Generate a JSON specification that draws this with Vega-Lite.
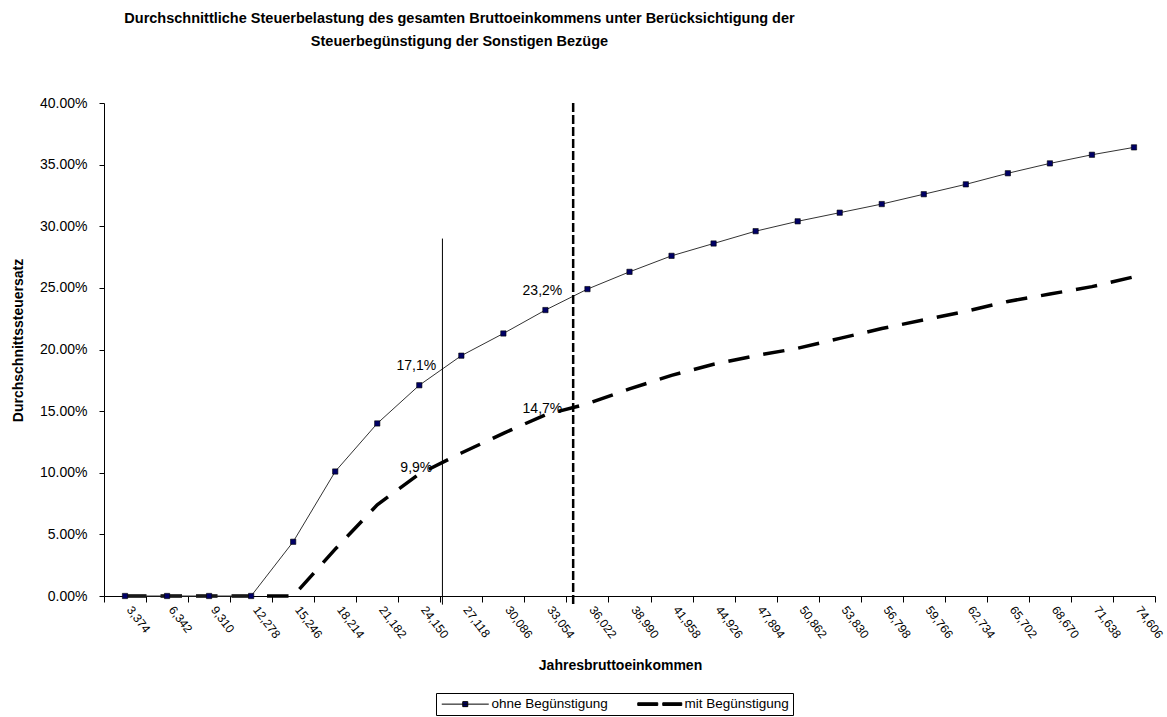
{
  "$schema": "https://vega.github.io/schema/vega-lite/v6.json",
  "autosize": {"type": "none"},
  "padding": {"left": 104, "top": 103, "right": 12, "bottom": 121},
  "width": 1051,
  "height": 493,
  "background": "white",
  "title": {
    "text": [
      "Durchschnittliche Steuerbelastung des gesamten Bruttoeinkommens unter Berücksichtigung der",
      "Steuerbegünstigung der Sonstigen Bezüge"
    ],
    "font": "Liberation Sans",
    "fontSize": 14.5,
    "fontWeight": "bold",
    "color": "black",
    "lineHeight": 23,
    "anchor": "middle",
    "frame": "group",
    "dx": -170,
    "offset": 47
  },
  "datasets": {
    "saetze": [
      {"einkommen": "3,374", "reihe": "ohne Begünstigung", "satz": 0},
      {"einkommen": "6,342", "reihe": "ohne Begünstigung", "satz": 0},
      {"einkommen": "9,310", "reihe": "ohne Begünstigung", "satz": 0},
      {"einkommen": "12,278", "reihe": "ohne Begünstigung", "satz": 0},
      {"einkommen": "15,246", "reihe": "ohne Begünstigung", "satz": 0.044},
      {"einkommen": "18,214", "reihe": "ohne Begünstigung", "satz": 0.101},
      {"einkommen": "21,182", "reihe": "ohne Begünstigung", "satz": 0.140},
      {"einkommen": "24,150", "reihe": "ohne Begünstigung", "satz": 0.171},
      {"einkommen": "27,118", "reihe": "ohne Begünstigung", "satz": 0.195},
      {"einkommen": "30,086", "reihe": "ohne Begünstigung", "satz": 0.213},
      {"einkommen": "33,054", "reihe": "ohne Begünstigung", "satz": 0.232},
      {"einkommen": "36,022", "reihe": "ohne Begünstigung", "satz": 0.249},
      {"einkommen": "38,990", "reihe": "ohne Begünstigung", "satz": 0.263},
      {"einkommen": "41,958", "reihe": "ohne Begünstigung", "satz": 0.276},
      {"einkommen": "44,926", "reihe": "ohne Begünstigung", "satz": 0.286},
      {"einkommen": "47,894", "reihe": "ohne Begünstigung", "satz": 0.296},
      {"einkommen": "50,862", "reihe": "ohne Begünstigung", "satz": 0.304},
      {"einkommen": "53,830", "reihe": "ohne Begünstigung", "satz": 0.311},
      {"einkommen": "56,798", "reihe": "ohne Begünstigung", "satz": 0.318},
      {"einkommen": "59,766", "reihe": "ohne Begünstigung", "satz": 0.326},
      {"einkommen": "62,734", "reihe": "ohne Begünstigung", "satz": 0.334},
      {"einkommen": "65,702", "reihe": "ohne Begünstigung", "satz": 0.343},
      {"einkommen": "68,670", "reihe": "ohne Begünstigung", "satz": 0.351},
      {"einkommen": "71,638", "reihe": "ohne Begünstigung", "satz": 0.358},
      {"einkommen": "74,606", "reihe": "ohne Begünstigung", "satz": 0.364},
      {"einkommen": "3,374", "reihe": "mit Begünstigung", "satz": 0},
      {"einkommen": "6,342", "reihe": "mit Begünstigung", "satz": 0},
      {"einkommen": "9,310", "reihe": "mit Begünstigung", "satz": 0},
      {"einkommen": "12,278", "reihe": "mit Begünstigung", "satz": 0},
      {"einkommen": "15,246", "reihe": "mit Begünstigung", "satz": 0},
      {"einkommen": "18,214", "reihe": "mit Begünstigung", "satz": 0.038},
      {"einkommen": "21,182", "reihe": "mit Begünstigung", "satz": 0.074},
      {"einkommen": "24,150", "reihe": "mit Begünstigung", "satz": 0.099},
      {"einkommen": "27,118", "reihe": "mit Begünstigung", "satz": 0.116},
      {"einkommen": "30,086", "reihe": "mit Begünstigung", "satz": 0.132},
      {"einkommen": "33,054", "reihe": "mit Begünstigung", "satz": 0.147},
      {"einkommen": "36,022", "reihe": "mit Begünstigung", "satz": 0.156},
      {"einkommen": "38,990", "reihe": "mit Begünstigung", "satz": 0.168},
      {"einkommen": "41,958", "reihe": "mit Begünstigung", "satz": 0.179},
      {"einkommen": "44,926", "reihe": "mit Begünstigung", "satz": 0.188},
      {"einkommen": "47,894", "reihe": "mit Begünstigung", "satz": 0.195},
      {"einkommen": "50,862", "reihe": "mit Begünstigung", "satz": 0.201},
      {"einkommen": "53,830", "reihe": "mit Begünstigung", "satz": 0.209},
      {"einkommen": "56,798", "reihe": "mit Begünstigung", "satz": 0.217},
      {"einkommen": "59,766", "reihe": "mit Begünstigung", "satz": 0.224},
      {"einkommen": "62,734", "reihe": "mit Begünstigung", "satz": 0.231},
      {"einkommen": "65,702", "reihe": "mit Begünstigung", "satz": 0.239},
      {"einkommen": "68,670", "reihe": "mit Begünstigung", "satz": 0.245},
      {"einkommen": "71,638", "reihe": "mit Begünstigung", "satz": 0.251},
      {"einkommen": "74,606", "reihe": "mit Begünstigung", "satz": 0.259}
    ],
    "grenzen": [
      {"einkommen": "27,118", "linie": "durchgezogen", "oben": 0.29, "unten": -0.007},
      {"einkommen": "36,022", "linie": "gestrichelt", "oben": 0.40, "unten": -0.009}
    ],
    "markiert": [
      {"einkommen": "24,150", "reihe": "ohne Begünstigung", "satz": 0.171},
      {"einkommen": "33,054", "reihe": "ohne Begünstigung", "satz": 0.232},
      {"einkommen": "24,150", "reihe": "mit Begünstigung", "satz": 0.099},
      {"einkommen": "33,054", "reihe": "mit Begünstigung", "satz": 0.147}
    ]
  },
  "config": {
    "view": {"stroke": null},
    "font": "Liberation Sans",
    "axis": {
      "grid": false,
      "domainColor": "black",
      "domainWidth": 1,
      "tickColor": "black",
      "tickWidth": 1,
      "labelColor": "black",
      "titleColor": "black",
      "labelFont": "Liberation Sans",
      "titleFont": "Liberation Sans"
    }
  },
  "layer": [
    {
      "data": {"name": "saetze"},
      "transform": [{"filter": "datum.reihe === 'mit Begünstigung'"}],
      "mark": {"type": "line", "color": "black", "strokeWidth": 3.5, "strokeDash": [21.5, 14], "strokeCap": "butt"},
      "encoding": {
        "x": {
          "field": "einkommen",
          "type": "nominal",
          "bandPosition": 0.5,
          "scale": {
            "type": "band",
            "paddingInner": 0,
            "paddingOuter": 0,
            "domain": ["3,374", "6,342", "9,310", "12,278", "15,246", "18,214", "21,182", "24,150", "27,118", "30,086", "33,054", "36,022", "38,990", "41,958", "44,926", "47,894", "50,862", "53,830", "56,798", "59,766", "62,734", "65,702", "68,670", "71,638", "74,606"]
          },
          "axis": {
            "title": "Jahresbruttoeinkommen",
            "titleFontSize": 14,
            "titleFontWeight": "bold",
            "titleX": 516,
            "titleY": 62,
            "labelAngle": 53,
            "labelFontSize": 12,
            "labelPadding": 5,
            "labelOffset": 4,
            "labelOverlap": false,
            "labelBound": false,
            "tickBand": "extent",
            "tickSize": 6
          }
        },
        "y": {
          "field": "satz",
          "type": "quantitative",
          "title": "Durchschnittssteuersatz",
          "scale": {"domain": [0, 0.4], "nice": false},
          "axis": {
            "format": ".2%",
            "values": [0, 0.05, 0.1, 0.15, 0.2, 0.25, 0.3, 0.35, 0.4],
            "tickSize": 5,
            "labelPadding": 12,
            "labelFontSize": 14,
            "titleFontSize": 14,
            "titleFontWeight": "bold",
            "titleX": -79,
            "titleY": 237
          }
        }
      }
    },
    {
      "data": {"name": "saetze"},
      "transform": [{"filter": "datum.reihe === 'ohne Begünstigung'"}],
      "mark": {"type": "line", "color": "#333333", "strokeWidth": 1},
      "encoding": {
        "x": {"field": "einkommen", "type": "nominal", "bandPosition": 0.5},
        "y": {"field": "satz", "type": "quantitative", "title": "Durchschnittssteuersatz"}
      }
    },
    {
      "data": {"name": "saetze"},
      "transform": [{"filter": "datum.reihe === 'ohne Begünstigung'"}],
      "mark": {"type": "point", "shape": "square", "filled": true, "size": 28, "fill": "#000066", "stroke": "#000000", "strokeWidth": 0.6, "opacity": 1},
      "encoding": {
        "x": {"field": "einkommen", "type": "nominal", "bandPosition": 0.5},
        "y": {"field": "satz", "type": "quantitative", "title": "Durchschnittssteuersatz"}
      }
    },
    {
      "data": {"name": "grenzen"},
      "transform": [{"filter": "datum.linie === 'durchgezogen'"}],
      "mark": {"type": "rule", "color": "black", "strokeWidth": 1},
      "encoding": {
        "x": {"field": "einkommen", "type": "nominal", "bandPosition": 0.05},
        "y": {"field": "oben", "type": "quantitative", "title": "Durchschnittssteuersatz"},
        "y2": {"field": "unten"}
      }
    },
    {
      "data": {"name": "grenzen"},
      "transform": [{"filter": "datum.linie === 'gestrichelt'"}],
      "mark": {"type": "rule", "color": "black", "strokeWidth": 2.5, "strokeDash": [9, 3], "strokeCap": "butt"},
      "encoding": {
        "x": {"field": "einkommen", "type": "nominal", "bandPosition": 0.16},
        "y": {"field": "oben", "type": "quantitative", "title": "Durchschnittssteuersatz"},
        "y2": {"field": "unten"}
      }
    },
    {
      "data": {"name": "markiert"},
      "transform": [{"filter": "datum.reihe === 'ohne Begünstigung'"}],
      "mark": {
        "type": "text",
        "font": "Liberation Sans",
        "fontSize": 14,
        "color": "black",
        "align": "center",
        "baseline": "alphabetic",
        "dx": -3,
        "dy": -15,
        "text": {"expr": "replace(format(datum.satz, '.1%'), '.', ',')"}
      },
      "encoding": {
        "x": {"field": "einkommen", "type": "nominal", "bandPosition": 0.5},
        "y": {"field": "satz", "type": "quantitative", "title": "Durchschnittssteuersatz"}
      }
    },
    {
      "data": {"name": "markiert"},
      "transform": [{"filter": "datum.reihe === 'mit Begünstigung'"}],
      "mark": {
        "type": "text",
        "font": "Liberation Sans",
        "fontSize": 14,
        "color": "black",
        "align": "center",
        "baseline": "alphabetic",
        "dx": -3,
        "dy": -2,
        "text": {"expr": "replace(format(datum.satz, '.1%'), '.', ',')"}
      },
      "encoding": {
        "x": {"field": "einkommen", "type": "nominal", "bandPosition": 0.5},
        "y": {"field": "satz", "type": "quantitative", "title": "Durchschnittssteuersatz"}
      }
    },
    {
      "data": {"name": "saetze"},
      "mark": {"type": "point", "filled": true, "opacity": 0, "stroke": "black", "strokeWidth": 1},
      "encoding": {
        "x": {"field": "einkommen", "type": "nominal", "bandPosition": 0.5},
        "y": {"field": "satz", "type": "quantitative", "title": "Durchschnittssteuersatz"},
        "shape": {
          "field": "reihe",
          "type": "nominal",
          "scale": {
            "domain": ["ohne Begünstigung", "mit Begünstigung"],
            "range": [
              "M-4.7,0H4.7M-0.5,-0.5H0.5V0.5H-0.5Z",
              "M-4.1,-0.27H-0.1V0.27H-4.1ZM0.9,-0.27H4.7V0.27H0.9Z"
            ]
          },
          "legend": {
            "title": null,
            "orient": "none",
            "legendX": 332,
            "legendY": 590,
            "direction": "horizontal",
            "columns": 2,
            "strokeColor": "black",
            "padding": 4,
            "cornerRadius": 0,
            "labelFont": "Liberation Sans",
            "labelFontSize": 13.5,
            "labelColor": "black",
            "symbolSize": 100,
            "symbolOffset": 18.5,
            "labelOffset": 19.5,
            "columnPadding": 25,
            "symbolStrokeColor": "black",
            "symbolStrokeWidth": 1,
            "symbolOpacity": 1,
            "encode": {"symbols": {"update": {"stroke": {"value": "black"}, "strokeWidth": {"value": 1}, "opacity": {"value": 1}}}}
          }
        },
        "fill": {
          "field": "reihe",
          "type": "nominal",
          "scale": {
            "domain": ["ohne Begünstigung", "mit Begünstigung"],
            "range": ["#000066", "#000000"]
          },
          "legend": {
            "title": null,
            "orient": "none",
            "legendX": 332,
            "legendY": 590,
            "direction": "horizontal",
            "columns": 2,
            "strokeColor": "black",
            "padding": 4,
            "cornerRadius": 0,
            "labelFont": "Liberation Sans",
            "labelFontSize": 13.5,
            "labelColor": "black",
            "symbolSize": 100,
            "symbolOffset": 18.5,
            "labelOffset": 19.5,
            "columnPadding": 25,
            "symbolStrokeColor": "black",
            "symbolStrokeWidth": 1,
            "symbolOpacity": 1,
            "encode": {"symbols": {"update": {"stroke": {"value": "black"}, "strokeWidth": {"value": 1}, "opacity": {"value": 1}}}}
          }
        }
      }
    }
  ]
}
